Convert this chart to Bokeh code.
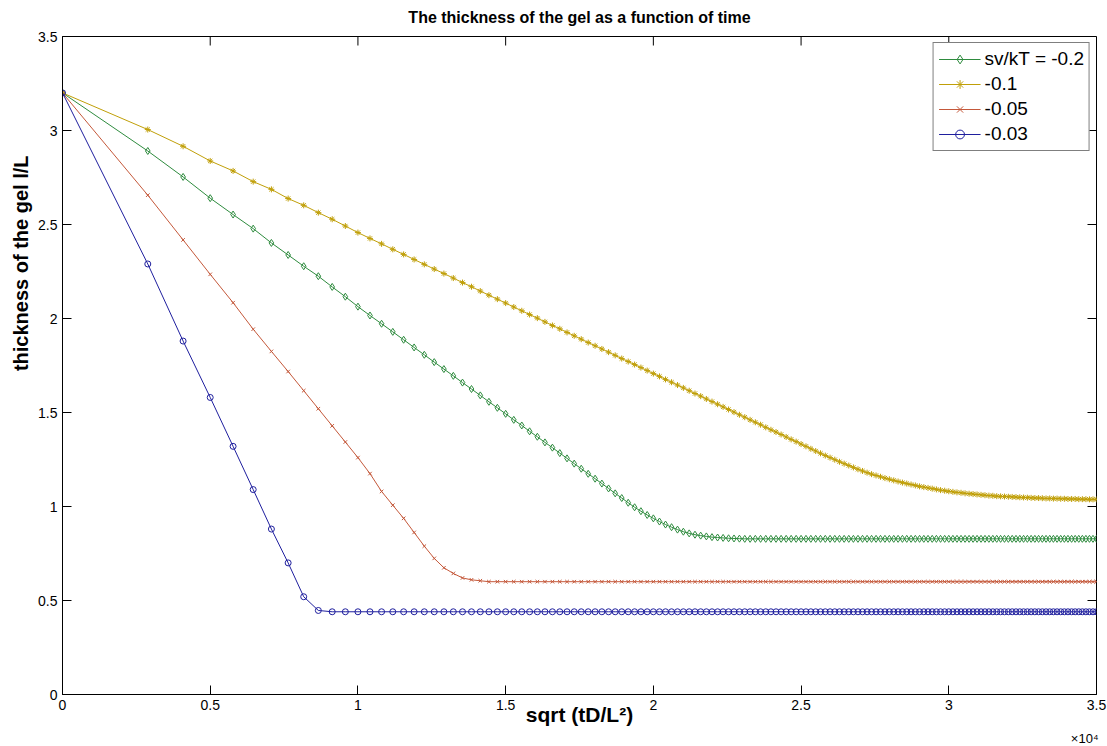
from bokeh.plotting import figure
from bokeh.models import Range1d, FixedTicker, Legend, LegendItem, Title
from bokeh.embed import file_html
from bokeh.resources import INLINE

# sample points of sqrt(tD/L^2), in units of 1e4
sqrt_t = [
    0.0, 0.2887, 0.4082, 0.5, 0.5774, 0.6455, 0.7071, 0.7638, 0.8165, 0.866,
    0.9129, 0.9574, 1.0, 1.0408, 1.0801, 1.118, 1.1547, 1.1902, 1.2247, 1.2583,
    1.291, 1.3229, 1.354, 1.3844, 1.4142, 1.4434, 1.472, 1.5, 1.5275, 1.5546,
    1.5811, 1.6073, 1.633, 1.6583, 1.6833, 1.7078, 1.7321, 1.7559, 1.7795, 1.8028,
    1.8257, 1.8484, 1.8708, 1.893, 1.9149, 1.9365, 1.9579, 1.9791, 2.0, 2.0207,
    2.0412, 2.0616, 2.0817, 2.1016, 2.1213, 2.1409, 2.1602, 2.1794, 2.1985, 2.2174,
    2.2361, 2.2546, 2.273, 2.2913, 2.3094, 2.3274, 2.3452, 2.3629, 2.3805, 2.3979,
    2.4152, 2.4324, 2.4495, 2.4664, 2.4833, 2.5, 2.5166, 2.5331, 2.5495, 2.5658,
    2.582, 2.5981, 2.6141, 2.63, 2.6458, 2.6615, 2.6771, 2.6926, 2.708, 2.7234,
    2.7386, 2.7538, 2.7689, 2.7839, 2.7988, 2.8137, 2.8284, 2.8431, 2.8577, 2.8723,
    2.8868, 2.9011, 2.9155, 2.9297, 2.9439, 2.958, 2.9721, 2.9861, 3.0, 3.0139,
    3.0277, 3.0414, 3.0551, 3.0687, 3.0822, 3.0957, 3.1091, 3.1225, 3.1358, 3.1491,
    3.1623, 3.1754, 3.1885, 3.2016, 3.2146, 3.2275, 3.2404, 3.2532, 3.266, 3.2787,
    3.2914, 3.304, 3.3166, 3.3292, 3.3417, 3.3541, 3.3665, 3.3789, 3.3912, 3.4034,
    3.4157, 3.4278, 3.44, 3.4521, 3.4641, 3.4761, 3.4881, 3.5,
]

# gel thickness l/L for sv/kT = -0.2
thick_m020 = [
    3.2, 2.891, 2.753, 2.640, 2.553, 2.478, 2.402, 2.338, 2.278, 2.225,
    2.168, 2.116, 2.063, 2.016, 1.972, 1.929, 1.887, 1.846, 1.807, 1.768,
    1.731, 1.695, 1.659, 1.625, 1.591, 1.557, 1.525, 1.493, 1.461, 1.431,
    1.400, 1.371, 1.341, 1.313, 1.284, 1.256, 1.228, 1.201, 1.174, 1.148,
    1.122, 1.096, 1.070, 1.045, 1.020, 0.996, 0.975, 0.955, 0.937, 0.920,
    0.904, 0.890, 0.877, 0.866, 0.857, 0.850, 0.845, 0.841, 0.837, 0.835,
    0.833, 0.831, 0.830, 0.829,
] + [0.828] * 84

# sv/kT = -0.1
thick_m010 = [
    3.2, 3.005, 2.916, 2.838, 2.785, 2.728, 2.687, 2.638, 2.602, 2.563,
    2.528, 2.492, 2.457, 2.426, 2.397, 2.368, 2.341, 2.314, 2.288, 2.263,
    2.239, 2.215, 2.191, 2.169, 2.146, 2.124, 2.103, 2.082, 2.061, 2.041,
    2.021, 2.002, 1.982, 1.963, 1.945, 1.926, 1.908, 1.890, 1.872, 1.855,
    1.838, 1.821, 1.804, 1.787, 1.771, 1.755, 1.739, 1.723, 1.707, 1.692,
    1.676, 1.661, 1.646, 1.631, 1.616, 1.601, 1.587, 1.572, 1.558, 1.544,
    1.530, 1.516, 1.502, 1.488, 1.475, 1.461, 1.448, 1.435, 1.421, 1.408,
    1.396, 1.383, 1.370, 1.357, 1.345, 1.332, 1.320, 1.307, 1.295, 1.283,
    1.271, 1.260, 1.249, 1.238, 1.228, 1.218, 1.208, 1.198, 1.189, 1.180,
    1.172, 1.165, 1.158, 1.151, 1.145, 1.139, 1.133, 1.127, 1.122, 1.117,
    1.112, 1.107, 1.103, 1.099, 1.095, 1.091, 1.087, 1.084, 1.081, 1.078,
    1.075, 1.073, 1.070, 1.068, 1.066, 1.064, 1.062, 1.060, 1.058, 1.057,
    1.055, 1.054, 1.053, 1.052, 1.051, 1.050, 1.049, 1.048, 1.047, 1.046,
    1.045, 1.045, 1.044, 1.043, 1.043, 1.042, 1.042, 1.041, 1.041, 1.040,
    1.040, 1.040, 1.039, 1.039, 1.039, 1.038, 1.038, 1.038,
]

# sv/kT = -0.05
thick_m005 = [
    3.2, 2.656, 2.418, 2.235, 2.084, 1.943, 1.825, 1.718, 1.616, 1.520,
    1.429, 1.343, 1.260, 1.175, 1.080, 1.007, 0.937, 0.862, 0.789, 0.724,
    0.674, 0.644, 0.620, 0.610, 0.605,
] + [0.6] * 123

# sv/kT = -0.03
thick_m003 = [
    3.2, 2.29, 1.88, 1.58, 1.32, 1.09, 0.88, 0.70, 0.52, 0.447,
] + [0.44] * 138

series_labels = ["sv/kT = -0.2", "-0.1", "-0.05", "-0.03"]
x_ticks = [0, 0.5, 1, 1.5, 2, 2.5, 3, 3.5]
x_tick_labels = ["0", "0.5", "1", "1.5", "2", "2.5", "3", "3.5"]
y_ticks = [0, 0.5, 1, 1.5, 2, 2.5, 3, 3.5]
y_tick_labels = ["0", "0.5", "1", "1.5", "2", "2.5", "3", "3.5"]

FONT = "Liberation Sans"
W, H = 1107, 746
BL, BR, BT, BB = 62, 11, 36, 52
X0, X1, Y0, Y1 = 0, 3.5, 0, 3.5
TICK = 9  # tick length in px, pointing into the axes box

p = figure(
    width=W, height=H,
    x_range=Range1d(X0, X1), y_range=Range1d(Y0, Y1),
    output_backend="svg", toolbar_location=None,
    min_border_left=BL, min_border_right=BR, min_border_top=BT, min_border_bottom=BB,
    background_fill_color="white", border_fill_color="white",
)
p.grid.visible = False
p.outline_line_color = "black"
p.outline_line_width = 1

p.title = Title(
    text="The thickness of the gel as a function of time",
    align="center", text_font=FONT, text_font_size="16px",
    text_font_style="bold", text_color="black", standoff=17,
    vertical_align="top",
)

for ax, ticks, labels in ((p.xaxis[0], x_ticks, x_tick_labels),
                          (p.yaxis[0], y_ticks, y_tick_labels)):
    ax.ticker = FixedTicker(ticks=ticks)
    ax.major_label_overrides = {t: l for t, l in zip(ticks, labels)}
    ax.major_tick_in = TICK
    ax.major_tick_out = 0
    ax.minor_tick_line_color = None
    ax.axis_line_color = "black"
    ax.major_tick_line_color = "black"
    ax.major_label_text_font = FONT
    ax.major_label_text_font_size = "14px"
    ax.major_label_text_color = "black"
    ax.major_label_standoff = 5

xax = p.xaxis[0]
xax.axis_label = "sqrt (tD/L²)"
xax.axis_label_text_font = FONT
xax.axis_label_text_font_size = "21px"
xax.axis_label_text_font_style = "bold"
xax.axis_label_text_color = "black"
xax.axis_label_standoff = -10

# y label, set toward the upper part of the left side
p.add_layout(Title(text="thickness of the gel l/L", align="right", offset=119,
                   text_font=FONT, text_font_size="20px", text_font_style="bold",
                   text_color="black", standoff=8), "left")

# inward ticks along the top and right edges of the axes box
frame_w = W - BL - BR
frame_h = H - BT - BB
dy = TICK * (Y1 - Y0) / frame_h
dx = TICK * (X1 - X0) / frame_w
p.segment(x0=x_ticks, y0=[Y1] * len(x_ticks), x1=x_ticks, y1=[Y1 - dy] * len(x_ticks),
          line_color="black", line_width=1)
p.segment(x0=[X1] * len(y_ticks), y0=y_ticks, x1=[X1 - dx] * len(y_ticks), y1=y_ticks,
          line_color="black", line_width=1)

styles = [
    (thick_m020, "#2e8b3e", "diamond", 7),
    (thick_m010, "#c09f08", "asterisk", 6),
    (thick_m005, "#c4583a", "x", 5),
    (thick_m003, "#1f1f9e", "circle", 6),
]

items = []
for (ys, color, marker, size), label in zip(styles, series_labels):
    ln = p.line(sqrt_t, ys, line_color=color, line_width=1)
    sc = p.scatter(sqrt_t, ys, marker=marker, size=size,
                   line_color=color, line_width=1, fill_color=None)
    items.append(LegendItem(label=label, renderers=[ln, sc]))

legend = Legend(
    items=items, location="top_right",
    margin=6, padding=5, spacing=3,
    glyph_width=42, glyph_height=22, label_height=22, label_standoff=4,
    label_text_font=FONT, label_text_font_size="19px", label_text_color="black",
    border_line_color="black", border_line_width=1,
    background_fill_color="white", background_fill_alpha=1,
)
p.add_layout(legend)

# axis multiplier note under the right end of the x axis
p.add_layout(Title(text="×10⁴", align="right", text_font=FONT,
                   text_font_size="13px", text_font_style="normal",
                   text_color="black", standoff=0, offset=-2), "below")

html = file_html(p, INLINE)
with open("out.html", "w") as f:
    f.write(html)
